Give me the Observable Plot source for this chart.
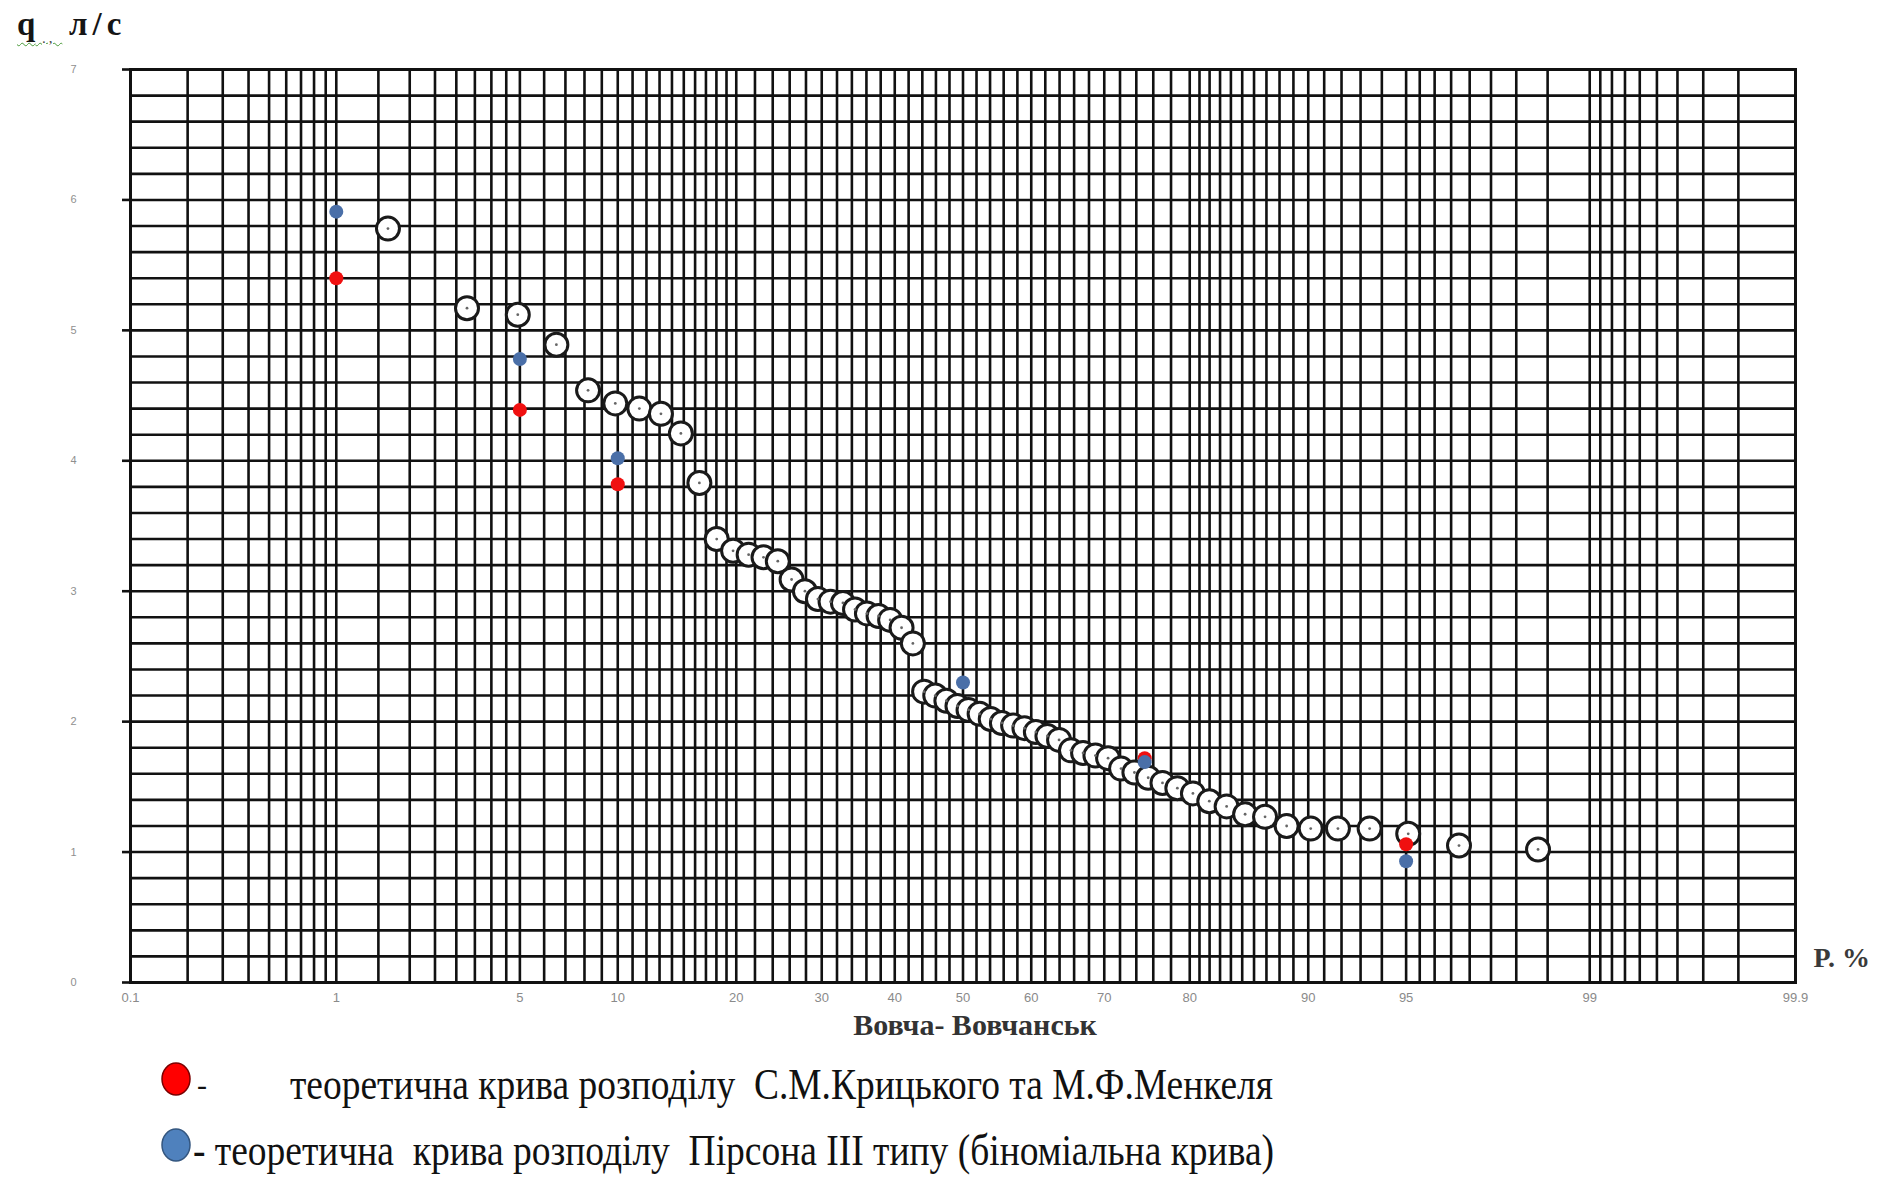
<!DOCTYPE html>
<html>
<head>
<meta charset="utf-8">
<script src="https://cdn.jsdelivr.net/npm/d3@7"></script>
<script src="https://cdn.jsdelivr.net/npm/@observablehq/plot@0.6"></script>
<style>
  html, body { margin: 0; padding: 0; background: #fff; }
  #wrap { position: relative; width: 1890px; height: 1177px; overflow: hidden; background: #fff; }
  #chart { position: absolute; left: 0; top: 0; }
  #title { position: absolute; left: 17px; top: 4px; height: 44px; width: 140px; font-family: "Liberation Serif", serif; font-size: 33px; font-weight: bold; color: #151515; white-space: pre; line-height: 40px; }
  #title .q { text-decoration: underline wavy #4a9a3a; text-decoration-thickness: 1px; text-underline-offset: 7px; }
  #title sub { font-size: 15px; font-weight: normal; color: #444; letter-spacing: 3px; }
  #title .u { position: absolute; left: 52px; top: 0; letter-spacing: 5px; }
  #legend { position: absolute; left: 0; top: 1045px; }
</style>
</head>
<body>
<div id="wrap">
  <div id="chart"></div>
  <div id="title"><span class="q">q<sub> ., </sub></span><span class="u">л/с</span></div>
  <svg id="legend" width="1890" height="132"></svg>
</div>
<script>
// ---- data ----
// empirical (observed) points: exceedance probability P, %, and discharge q, l/s
const obsP = [1.64, 3.28, 4.92, 6.56, 8.20, 9.84, 11.48, 13.11, 14.75, 16.39,
  18.03, 19.67, 21.31, 22.95, 24.59, 26.23, 27.87, 29.51, 31.15, 32.79,
  34.43, 36.07, 37.70, 39.34, 40.98, 42.62, 44.26, 45.90, 47.54, 49.18,
  50.82, 52.46, 54.10, 55.74, 57.38, 59.02, 60.66, 62.30, 63.93, 65.57,
  67.21, 68.85, 70.49, 72.13, 73.77, 75.41, 77.05, 78.69, 80.33, 81.97,
  83.61, 85.25, 86.89, 88.52, 90.16, 91.80, 93.44, 95.08, 96.72, 98.36];
const obsQ = [5.78, 5.17, 5.12, 4.89, 4.54, 4.44, 4.40, 4.36, 4.21, 3.83,
  3.40, 3.31, 3.28, 3.26, 3.23, 3.09, 3.00, 2.94, 2.92, 2.91,
  2.86, 2.83, 2.81, 2.78, 2.72, 2.60, 2.23, 2.20, 2.16, 2.12,
  2.09, 2.06, 2.02, 1.99, 1.97, 1.95, 1.92, 1.89, 1.86, 1.78,
  1.76, 1.74, 1.72, 1.64, 1.61, 1.57, 1.53, 1.49, 1.45, 1.39,
  1.35, 1.29, 1.27, 1.20, 1.18, 1.18, 1.18, 1.14, 1.05, 1.02];

// theoretical curve of S.M. Krytskyi & M.F. Menkel (red)
const redP = [1, 5, 10, 75, 95];
const redQ = [5.40, 4.39, 3.82, 1.72, 1.06];
// theoretical Pearson type III curve (blue)
const blueP = [1, 5, 10, 50, 75, 95];
const blueQ = [5.91, 4.78, 4.02, 2.30, 1.69, 0.93];

// axis tick labels
const xTicks = [0.1, 1, 5, 10, 20, 30, 40, 50, 60, 70, 80, 90, 95, 99, 99.9];
const yTicks = [0, 1, 2, 3, 4, 5, 6, 7];

const legendRed = "теоретична крива розподілу  С.М.Крицького та М.Ф.Менкеля";
const legendBlue = "- теоретична  крива розподілу  Пірсона ІІІ типу (біноміальна крива)";
const xName = "Вовча- Вовчанськ";
const xUnit = "P. %";

// ---- probability-paper (normal quantile) transform ----
function probit(p) {
  const a = [-3.969683028665376e+01, 2.209460984245205e+02, -2.759285104469687e+02, 1.383577518672690e+02, -3.066479806614716e+01, 2.506628277459239e+00];
  const b = [-5.447609879822406e+01, 1.615858368580409e+02, -1.556989798598866e+02, 6.680131188771972e+01, -1.328068155288572e+01];
  const c = [-7.784894002430293e-03, -3.223964580411365e-01, -2.400758277161838e+00, -2.549732539343734e+00, 4.374664141464968e+00, 2.938163982698783e+00];
  const d = [7.784695709041462e-03, 3.224671290700398e-01, 2.445134137142996e+00, 3.754408661907416e+00];
  const pl = 0.02425, ph = 1 - pl;
  let q, r;
  if (p < pl) {
    q = Math.sqrt(-2 * Math.log(p));
    return (((((c[0]*q+c[1])*q+c[2])*q+c[3])*q+c[4])*q+c[5]) / ((((d[0]*q+d[1])*q+d[2])*q+d[3])*q+1);
  }
  if (p <= ph) {
    q = p - 0.5; r = q * q;
    return (((((a[0]*r+a[1])*r+a[2])*r+a[3])*r+a[4])*r+a[5])*q / (((((b[0]*r+b[1])*r+b[2])*r+b[3])*r+b[4])*r+1);
  }
  q = Math.sqrt(-2 * Math.log(1 - p));
  return -(((((c[0]*q+c[1])*q+c[2])*q+c[3])*q+c[4])*q+c[5]) / ((((d[0]*q+d[1])*q+d[2])*q+d[3])*q+1);
}
const tx = P => probit(P / 100);

// grid of the probability paper
const seg = (a, b, s) => d3.range(a, b - s / 2, s).map(v => +v.toFixed(2));
const gridP = [...seg(0.1, 1, 0.1), ...seg(1, 5, 0.5), ...seg(5, 20, 1), ...seg(20, 80, 2),
  ...seg(80, 95, 1), ...seg(95, 99, 0.5), ...seg(99, 99.95, 0.1)];
const gridQ = d3.range(0, 7.001, 0.2).map(v => +v.toFixed(1));

const obs = obsP.map((p, i) => ({P: p, q: obsQ[i]}));
const red = redP.map((p, i) => ({P: p, q: redQ[i]}));
const blue = blueP.map((p, i) => ({P: p, q: blueQ[i]}));

const gridColor = "#111";

const chart = Plot.plot({
  width: 1890,
  height: 1045,
  marginLeft: 130,
  marginRight: 95,
  marginTop: 69,
  marginBottom: 63,
  style: {background: "white", fontFamily: "Liberation Sans, Arial, sans-serif", overflow: "visible"},
  x: {type: "linear", transform: tx, domain: [tx(0.1), tx(99.9)], axis: null},
  y: {domain: [0, 7], axis: null},
  marks: [
    Plot.ruleX(gridP, {x: d => d, stroke: gridColor, strokeWidth: 2.6}),
    Plot.ruleY(gridQ, {y: d => d, stroke: gridColor, strokeWidth: 2.6}),
    Plot.frame({stroke: gridColor, strokeWidth: 3}),
    Plot.axisX(xTicks, {anchor: "bottom", tickSize: 0, tickPadding: 10, fontSize: 13, fill: "#8a8a8a",
      tickFormat: d => String(d), label: null}),
    Plot.axisY(yTicks, {anchor: "left", tickSize: 8, tickPadding: 46, fontSize: 11, fill: "#8f8f8f",
      stroke: gridColor, strokeWidth: 2.6, tickFormat: d => String(d), label: null}),
    Plot.dot(obs, {x: "P", y: "q", r: 11.5, fill: "white", stroke: "#1a1a1a", strokeWidth: 3}),
    Plot.dot(obs, {x: "P", y: "q", r: 1.4, fill: "#666"}),
    Plot.dot(red, {x: "P", y: "q", r: 7, fill: "#f01010"}),
    Plot.dot(blue, {x: "P", y: "q", r: 7, fill: "#4a6fa8"}),
    Plot.text([xName], {frameAnchor: "bottom", dx: 12, dy: 52, fontSize: 30, fontWeight: "bold",
      fontFamily: "Liberation Serif, serif", fill: "#333"}),
    Plot.text([xUnit], {frameAnchor: "bottom-right", textAnchor: "start", dx: 18, dy: -16, fontSize: 28,
      fontWeight: "bold", fontFamily: "Liberation Serif, serif", fill: "#3a3a3a"})
  ]
});
document.getElementById("chart").appendChild(chart);

// ---- legend below the chart ----
const lg = d3.select("#legend");
lg.append("ellipse").attr("cx", 176).attr("cy", 34).attr("rx", 14).attr("ry", 16)
  .attr("fill", "#ff0000").attr("stroke", "#7a0000").attr("stroke-width", 1.5);
lg.append("text").attr("x", 197).attr("y", 50).attr("font-family", "Liberation Serif, serif")
  .attr("font-size", 30).attr("fill", "#111").text("-");
lg.append("text").attr("x", 290).attr("y", 54).attr("font-family", "Liberation Serif, serif")
  .attr("font-size", 45).attr("fill", "#111").style("white-space", "pre")
  .attr("textLength", 983).attr("lengthAdjust", "spacingAndGlyphs").text(legendRed);
lg.append("ellipse").attr("cx", 176).attr("cy", 100).attr("rx", 14).attr("ry", 16)
  .attr("fill", "#4f81bd").attr("stroke", "#34567f").attr("stroke-width", 1.5);
lg.append("text").attr("x", 193).attr("y", 120).attr("font-family", "Liberation Serif, serif")
  .attr("font-size", 45).attr("fill", "#111").style("white-space", "pre")
  .attr("textLength", 1081).attr("lengthAdjust", "spacingAndGlyphs").text(legendBlue);
</script>
</body>
</html>
